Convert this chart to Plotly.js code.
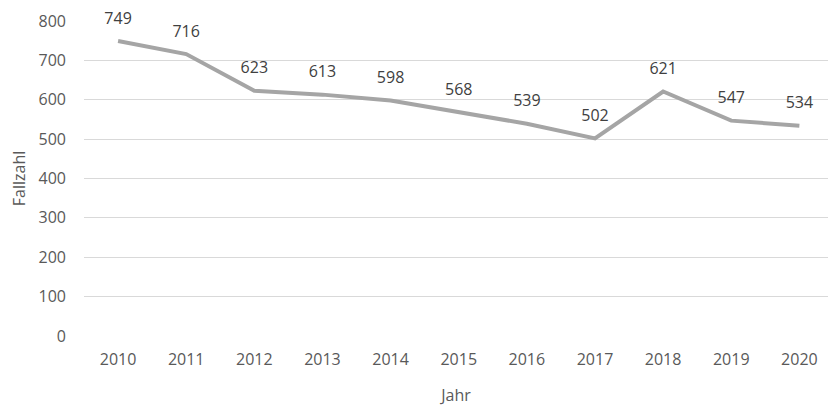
<!DOCTYPE html>
<html>
<head>
<meta charset="utf-8">
<script src="https://cdn.plot.ly/plotly-3.0.1.min.js"></script>
<style>html,body{margin:0;padding:0;background:#fff;}#chart{width:828px;height:406px;}</style>
</head>
<body>
<div id="chart"></div>
<script>
var years = ['2010','2011','2012','2013','2014','2015','2016','2017','2018','2019','2020'];
var cases = [749, 716, 623, 613, 598, 568, 539, 502, 621, 547, 534];
var yTicks = [0, 100, 200, 300, 400, 500, 600, 700, 800];

var fontFam = '"Open Sans", "Liberation Sans", sans-serif';
var txtColor = '#595959';

var trace = {
  x: years,
  y: cases,
  type: 'scatter',
  mode: 'lines+markers+text',
  line: {color: '#A5A5A5', width: 4},
  marker: {size: 20, color: 'rgba(0,0,0,0)', line: {width: 0}},
  text: cases.map(String),
  textposition: 'top center',
  textfont: {family: fontFam, size: 16, color: '#404040'},
  cliponaxis: false,
  hoverinfo: 'skip'
};

var layout = {
  width: 828, height: 406,
  margin: {l: 83.6, r: 0, t: 21, b: 70},
  paper_bgcolor: '#fff', plot_bgcolor: '#fff',
  showlegend: false,
  font: {family: fontFam, size: 16, color: txtColor},
  xaxis: {
    type: 'category',
    range: [-0.5, 10.42],
    showgrid: false, zeroline: false, showline: false,
    ticks: '', ticklabelstandoff: 12,
    tickfont: {family: fontFam, size: 16, color: txtColor},
    title: {text: 'Jahr', font: {family: fontFam, size: 16, color: txtColor}, standoff: 22}
  },
  yaxis: {
    range: [0, 800],
    tickvals: yTicks,
    ticktext: yTicks.map(String),
    showgrid: true, gridcolor: '#D9D9D9', gridwidth: 1,
    zeroline: false, showline: false,
    ticks: '', ticklabelstandoff: 17,
    tickfont: {family: fontFam, size: 16, color: txtColor},
    title: {text: 'Fallzahl', font: {family: fontFam, size: 16, color: txtColor}, standoff: 8}
  }
};

Plotly.newPlot('chart', [trace], layout, {staticPlot: true, displayModeBar: false});
</script>
</body>
</html>
